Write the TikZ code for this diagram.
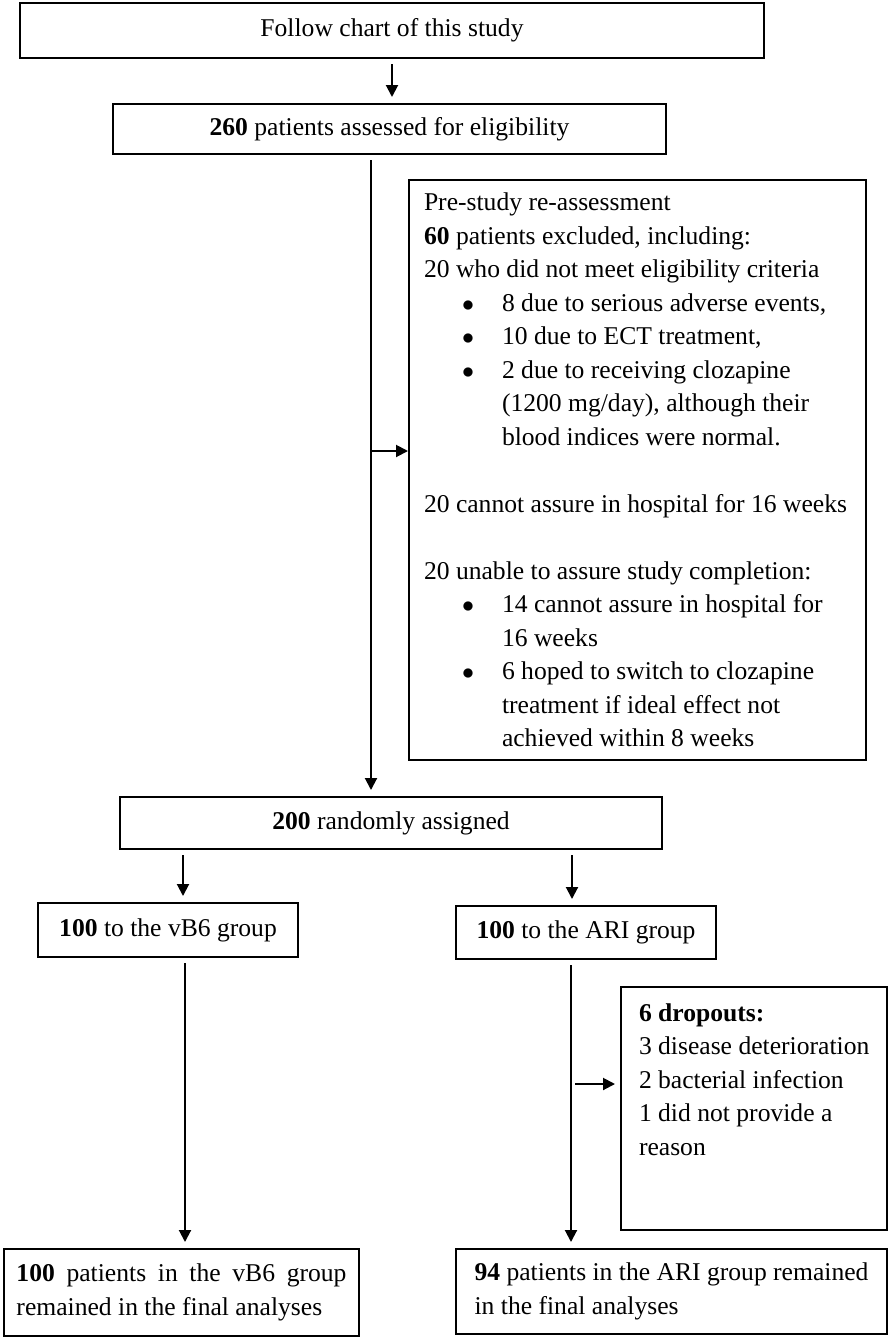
\documentclass[tikz,border=0pt]{standalone}
\usepackage{fontspec}
\setmainfont{Liberation Serif}
\usepackage{tikz}
\usetikzlibrary{arrows.meta}
\setlength{\parindent}{0pt}
\tikzstyle{boks} = [rectangle, draw=black, line width=1pt, align=center, inner sep=0pt]
\tikzstyle{notat} = [rectangle, draw=black, line width=1pt, align=flush left, inner xsep=7.5pt]
\tikzstyle{arrow} = [line width=1pt, -{Triangle[length=6pt,width=6pt]}, shorten <=2.5pt, shorten >=3pt]
\newcommand{\prikk}{\par\hangindent=39pt\hangafter=1\makebox[39pt][l]{\hspace{19pt}$\bullet$}}

\begin{document}
\begin{tikzpicture}[x=0.5pt, y=-0.5pt, font=\fontsize{12.8}{16.75}\selectfont]
		\useasboundingbox (0,0) rectangle (890,1339);
		
	    \node (title) [boks, minimum width=372pt, minimum height=27.5pt] at (392,30.5) {Follow chart of this study};
		\node (elig) [boks, minimum width=276.5pt, minimum height=25pt, node distance=49.25pt, below of=title, xshift=-1.25pt] {\textbf{260} patients assessed for eligibility};
		\node (excl) [notat, text width=213.5pt, minimum height=290pt, node distance=170.5pt, below of=elig, xshift=124pt] {Pre-study re-assessment\par
			\textbf{60} patients excluded, including:\par
			20 who did not meet eligibility criteria
			\prikk 8 due to serious adverse events,
			\prikk 10 due to ECT treatment,
			\prikk 2 due to receiving clozapine\newline (1200 mg/day), although their\newline blood indices were normal.\par
			\vspace{\baselineskip}
			20 cannot assure in hospital for 16 weeks\par
			\vspace{\baselineskip}
			20 unable to assure study completion:
			\prikk 14 cannot assure in hospital for\newline 16 weeks
			\prikk 6 hoped to switch to clozapine\newline treatment if ideal effect not\newline achieved within 8 weeks\par};
        \node (rand) [boks, minimum width=271pt, minimum height=26pt, node distance=347pt, below of=elig, xshift=0.75pt] {\textbf{200} randomly assigned};
        \node (vbsix) [boks, minimum width=130pt, minimum height=27pt, node distance=53.5pt, below of=rand, xshift=-111.5pt] {\textbf{100} to the vB6 group};
        \node (ari) [boks, minimum width=130pt, minimum height=26.5pt, node distance=54.75pt, below of=rand, xshift=97.5pt] {\textbf{100} to the ARI group};
        \node (drop) [notat, text width=122pt, inner xsep=5.5pt, inner ysep=8.25pt, node distance=88pt, below of=ari, xshift=84pt] {\leftskip=3.5pt\relax
			\textbf{6 dropouts:}\par
			3 disease deterioration\par
			2 bacterial infection\par
			1 did not provide a reason\par
			\vspace{29.25pt}\nointerlineskip\hbox{}};
        \node (finvbsix) [boks, align=justify, text width=165pt, inner xsep=6.25pt, minimum height=43.5pt, node distance=181.25pt, below of=vbsix, xshift=6.75pt] {\tolerance=2000\hyphenpenalty=10000\relax\textbf{100} patients in the vB6 group remained in the final analyses\par};
        \node (finari) [boks, align=left, minimum width=215.5pt, minimum height=42.5pt, node distance=179.5pt, below of=ari, xshift=42.75pt] {\textbf{94} patients in the ARI group remained\\in the final analyses};
        
        \coordinate (stamme) at ([xshift=-9.25pt]elig.south);
        \coordinate (grein) at ([yshift=9.5pt]excl.west -| stamme);
        \coordinate (stammeari) at ([xshift=-7.5pt]ari.south);
        
        \draw [arrow] (title.south) -- (title.south |- elig.north);
        \draw [arrow] (stamme) -- (stamme |- rand.north);
        \draw [arrow, shorten <=0pt, shorten >=0pt] (grein) -- (grein -| excl.west);
        \draw [arrow] ([xshift=7.5pt]vbsix.north |- rand.south) -- ([xshift=7.5pt]vbsix.north);
        \draw [arrow] ([xshift=-7pt]ari.north |- rand.south) -- ([xshift=-7pt]ari.north);
        \draw [arrow] ([xshift=8.5pt]vbsix.south) -- ([xshift=8.5pt]vbsix.south |- finvbsix.north);
        \draw [arrow] (stammeari) -- (stammeari |- finari.north);
        \draw [arrow, shorten <=2pt, shorten >=2.5pt] ([yshift=12.25pt]drop.west -| stammeari) -- ([yshift=12.25pt]drop.west);
		\end{tikzpicture}
\end{document}
